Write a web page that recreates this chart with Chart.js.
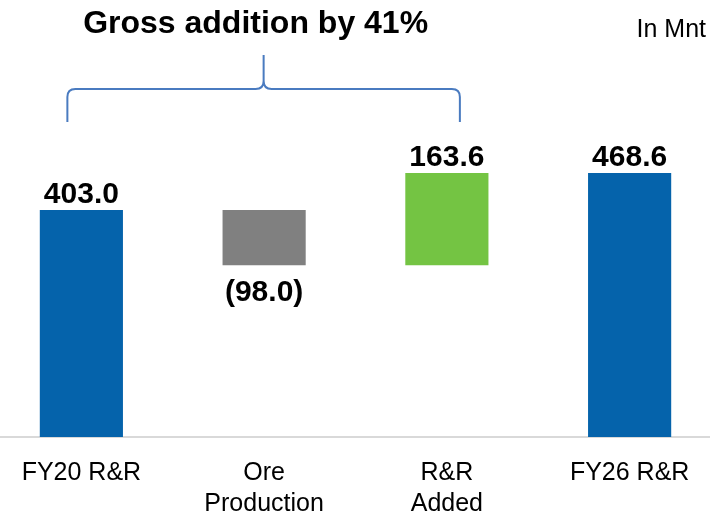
<!DOCTYPE html>
<html>
<head>
<meta charset="utf-8">
<script src="https://cdn.jsdelivr.net/npm/chart.js@4"></script>
<style>
  html, body { margin: 0; padding: 0; background: #fff; overflow: hidden; }
  #wrap { position: absolute; left: -10px; top: 0; width: 731px; height: 545px; }
</style>
</head>
<body>
<div id="wrap"><canvas id="chart"></canvas></div>
<script>
// データ
const categories = [['FY20 R&R'], ['Ore', 'Production'], ['R&R', 'Added'], ['FY26 R&R']];
const changes = [403.0, -98.0, 163.6, 468.6]; // 最初と最後は合計値
const valueLabels = ['403.0', '(98.0)', '163.6', '468.6'];
const barColors = ['#0563AB', '#808080', '#74C443', '#0563AB'];
const titleText = 'Gross addition by 41%';
const unitText = 'In Mnt';

// ウォーターフォールの範囲を作る
const ranges = [];
let running = 0;
for (let i = 0; i < changes.length; i++) {
    if (i === 0 || i === changes.length - 1) {
        ranges.push([0, changes[i]]);
        running = changes[i];
    } else {
        ranges.push([running, running + changes[i]]);
        running = running + changes[i];
    }
}

// 数値ラベル、括弧、タイトル
const extras = {
    id: 'extras',
    afterDatasetsDraw(chart) {
        const c = chart.ctx;
        const meta = chart.getDatasetMeta(0);
        c.save();
        c.fillStyle = '#000';
        c.textAlign = 'center';
        c.font = 'bold 30px "Liberation Sans", Arial, sans-serif';
        meta.data.forEach((bar, i) => {
            const top = Math.min(bar.y, bar.base);
            const bottom = Math.max(bar.y, bar.base);
            if (changes[i] < 0) {
                c.textBaseline = 'top';
                c.fillText(valueLabels[i], bar.x, bottom + 13);
            } else {
                c.textBaseline = 'alphabetic';
                c.fillText(valueLabels[i], bar.x, top - 7);
            }
        });

        // 括弧
        const xs = chart.scales.x;
        const left = xs.getPixelForValue(0) - 14;
        const right = xs.getPixelForValue(2) + 13;
        const mid = (left + right) / 2;
        const yTip = 55, yMid = 89, yEnd = 122, r = 8;
        c.strokeStyle = '#4A7BC0';
        c.lineWidth = 2;
        c.beginPath();
        c.moveTo(left, yEnd);
        c.lineTo(left, yMid + r);
        c.quadraticCurveTo(left, yMid, left + r, yMid);
        c.lineTo(mid - r, yMid);
        c.quadraticCurveTo(mid, yMid, mid, yMid - r);
        c.lineTo(mid, yTip);
        c.moveTo(mid, yMid - r);
        c.quadraticCurveTo(mid, yMid, mid + r, yMid);
        c.lineTo(right - r, yMid);
        c.quadraticCurveTo(right, yMid, right, yMid + r);
        c.lineTo(right, yEnd);
        c.stroke();

        // タイトル
        c.textBaseline = 'alphabetic';
        c.font = 'bold 32px "Liberation Sans", Arial, sans-serif';
        c.fillText(titleText, mid - 8, 33);
        c.textAlign = 'right';
        c.font = '25px "Liberation Sans", Arial, sans-serif';
        c.fillText(unitText, 716, 37);
        c.restore();
    }
};

const ctx = document.getElementById('chart');
const chart = new Chart(ctx, {
    type: 'bar',
    data: {
        labels: categories,
        datasets: [{
            data: ranges,
            backgroundColor: barColors,
            borderWidth: 0,
            barPercentage: 0.455,
            categoryPercentage: 1.0
        }]
    },
    options: {
        responsive: true,
        maintainAspectRatio: false,
        animation: false,
        layout: { padding: { top: 99, bottom: 4, left: 0, right: 0 } },
        plugins: {
            legend: { display: false },
            tooltip: { enabled: false }
        },
        scales: {
            x: {
                grid: { display: false, drawTicks: false },
                border: { display: true, color: '#D9D9D9', width: 2 },
                ticks: {
                    color: '#000',
                    padding: 21,
                    maxRotation: 0,
                    autoSkip: false,
                    font: { family: '"Liberation Sans", Arial, sans-serif', size: 25, lineHeight: 1.24 }
                }
            },
            y: {
                display: false,
                min: 0,
                max: 600
            }
        }
    },
    plugins: [extras]
});
</script>
</body>
</html>
